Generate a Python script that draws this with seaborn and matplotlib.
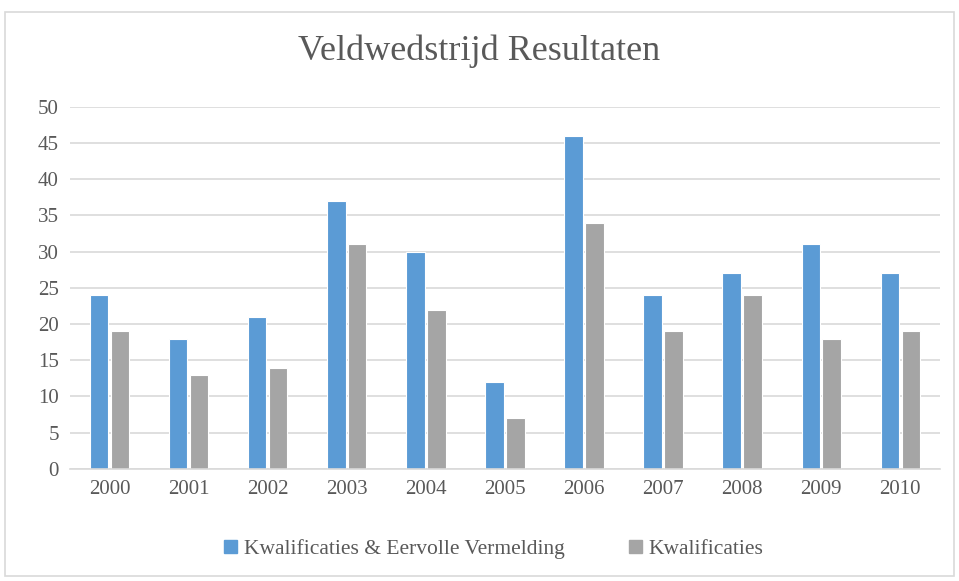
import pandas as pd
import matplotlib.pyplot as plt
import seaborn as sns
from matplotlib.patches import Rectangle

# data
years = ["2000", "2001", "2002", "2003", "2004", "2005", "2006", "2007", "2008", "2009", "2010"]
kwal_eervol = [24, 18, 21, 37, 30, 12, 46, 24, 27, 31, 27]
kwal = [19, 13, 14, 31, 22, 7, 34, 19, 24, 18, 19]
series_names = ["Kwalificaties & Eervolle Vermelding", "Kwalificaties"]
colors = ["#5B9BD5", "#A5A5A5"]

df = pd.DataFrame({
    "Jaar": years * 2,
    "Aantal": kwal_eervol + kwal,
    "Reeks": [series_names[0]] * len(years) + [series_names[1]] * len(years),
})

sns.set_style("white")
plt.rcParams["font.family"] = ["Liberation Serif", "DejaVu Serif"]
text_color = "#595959"

fig = plt.figure(figsize=(9.59, 5.81), dpi=100)
ax = fig.add_axes([0.073, 0.193, 0.907, 0.623])

sns.barplot(
    data=df, x="Jaar", y="Aantal", hue="Reeks",
    palette=colors, saturation=1, width=0.53, gap=0.12,
    edgecolor="white", linewidth=0.8, ax=ax, legend=False,
)

ax.set_ylim(0, 50)
ax.set_yticks(range(0, 51, 5))
ax.set_xlim(-0.5, len(years) - 0.5)
ax.yaxis.grid(True, color="#D9D9D9", linewidth=1.2)
ax.set_axisbelow(True)
for side in ["top", "right", "left"]:
    ax.spines[side].set_visible(False)
ax.spines["bottom"].set_color("#D9D9D9")
ax.spines["bottom"].set_linewidth(1.2)
ax.tick_params(axis="both", length=0, labelsize=15, labelcolor=text_color, pad=8)
ax.set_xlabel("")
ax.set_ylabel("")

fig.suptitle("Veldwedstrijd Resultaten", fontsize=26, color=text_color, y=0.94)

handles = [Rectangle((0, 0), 1, 1, color=c) for c in colors]
fig.legend(handles, series_names, loc="center", bbox_to_anchor=(0.515, 0.055), ncol=2,
           frameon=False, fontsize=15.5, labelcolor=text_color,
           handlelength=0.6, handleheight=0.6, handletextpad=0.3, columnspacing=3)

# light border around the chart area
fig.patches.append(Rectangle((0.005, 0.008), 0.99, 0.972, transform=fig.transFigure,
                             fill=False, edgecolor="#D9D9D9", linewidth=1.2))

plt.savefig("out.png", dpi=100)
plt.close()
